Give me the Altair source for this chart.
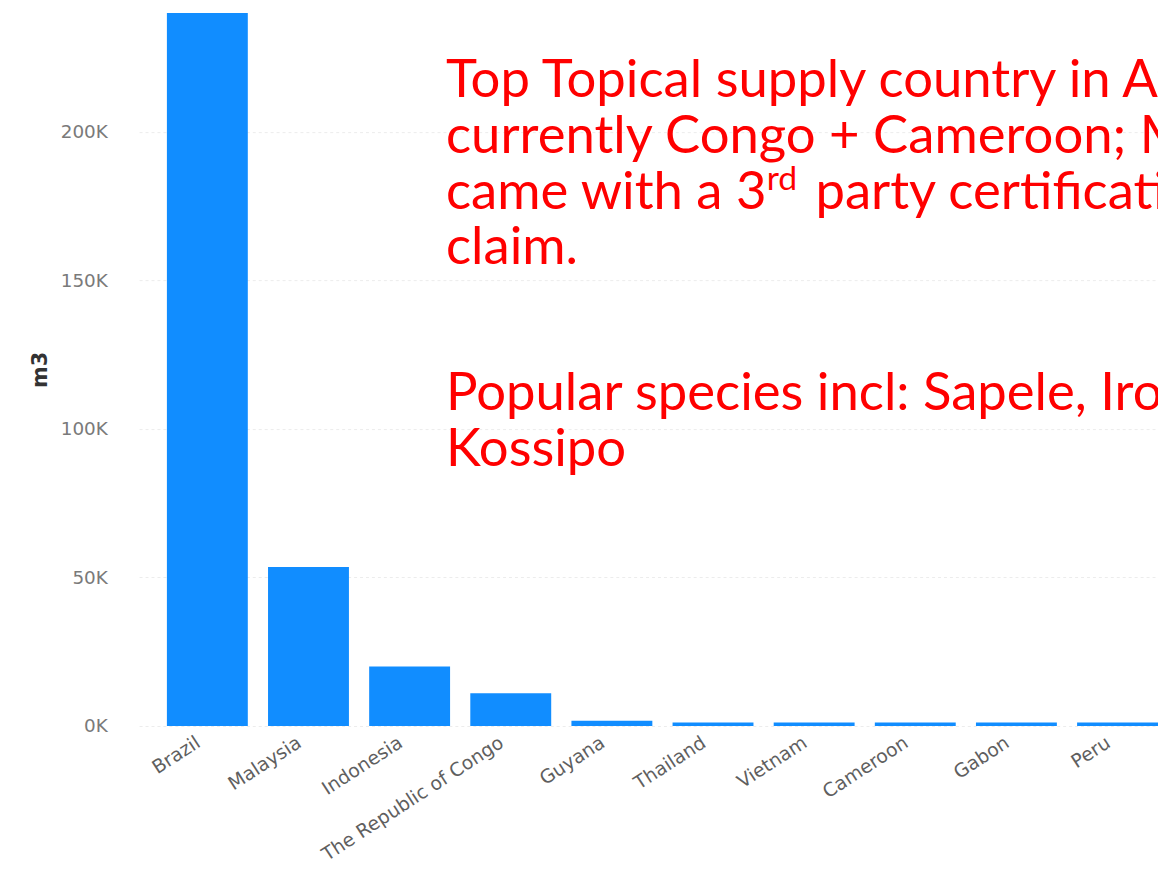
import altair as alt
import pandas as pd

countries = ["Brazil", "Malaysia", "Indonesia", "The Republic of Congo", "Guyana",
             "Thailand", "Vietnam", "Cameroon", "Gabon", "Peru"]
volumes = [240000, 53500, 20000, 11000, 1800, 1200, 1200, 1200, 1200, 1200]
y_ticks = [0, 50000, 100000, 150000, 200000]

note_lines_1 = ["Top Topical supply country in Africa is",
                "currently Congo + Cameroon; Most"]
note_line_3a = "came with a 3"
note_sup = "rd"
note_line_3b = "party certification"
note_line_4 = "claim."
note_lines_2 = ["Popular species incl: Sapele, Iroko,", "Kossipo"]

df = pd.DataFrame({"country": countries, "m3": volumes})

W, H = 1026, 718
TOP = 2

bars = alt.Chart(df).mark_bar(color="#118DFF").encode(
    x=alt.X("country:N", sort=countries, title=None,
            scale=alt.Scale(paddingInner=0.2, paddingOuter=0.1375, align=1),
            axis=alt.Axis(labelAngle=-33, labelFontSize=19, labelColor="#5f5f5f",
                          labelFont="DejaVu Sans", ticks=False, domain=False,
                          labelPadding=7, labelOffset=-14, labelLimit=0,
                          labelOverlap=False, grid=False)),
    y=alt.Y("m3:Q", title="m3",
            scale=alt.Scale(domain=[0, 240000], nice=False),
            axis=alt.Axis(values=y_ticks, labelExpr="(datum.value/1000) + 'K'",
                          labelFontSize=18.5, labelColor="#7a7a7a", labelFont="DejaVu Sans",
                          ticks=False, tickSize=0, domain=False, labelPadding=32,
                          titleFont="DejaVu Sans", titleFontSize=21, titleFontWeight="bold",
                          titleColor="#333333", titlePadding=10,
                          gridColor="#ececec", gridDash=[3, 3], gridWidth=1)),
)

RED = "#FF0000"
FS = 53
X0 = 309   # plot coords (page x 449)
B0 = 95 - 8 - TOP    # first baseline, page y 95
LH = 56

def txt(s, x, y, size=FS):
    return alt.Chart(df.head(1)).mark_text(
        text=s, align="left", baseline="alphabetic", font="Lato",
        fontSize=size, color=RED
    ).encode(x=alt.value(x), y=alt.value(y))

layers = [bars]
for i, s in enumerate(note_lines_1):
    layers.append(txt(s, X0, B0 + i * LH))
layers.append(txt(note_line_3a, X0, B0 + 2 * LH))
layers.append(txt(note_sup, 632, B0 + 2 * LH - 19, 34))
layers.append(txt(note_line_3b, 681, B0 + 2 * LH))
layers.append(txt(note_line_4, X0, B0 + 3 * LH))
for i, s in enumerate(note_lines_2):
    layers.append(txt(s, X0, 410 - 8 - TOP + i * LH))

chart = alt.layer(*layers).properties(
    width=W, height=H,
    autosize=alt.AutoSizeParams(type="none"),
    padding={"left": 132, "top": TOP, "right": 0, "bottom": 142},
    background="white",
).configure_view(stroke=None)

chart.save("out.html", embed_options={"renderer": "svg", "actions": False})
